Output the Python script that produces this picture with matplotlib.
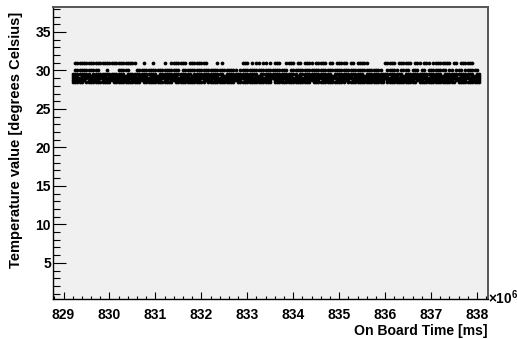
import matplotlib
matplotlib.use("Agg")
import matplotlib.pyplot as plt
from matplotlib.ticker import MultipleLocator, FixedLocator
import numpy as np

# ---------------- data ----------------
# sample grid of the on-board time (ms)
T_START_MS = 829.20e6
T_STEP_MS = 0.05e6

# temperature levels (degrees Celsius) and, per level, which samples of the
# grid show a point at that level ('#' = point present, '.' = none)
levels = [31.0, 30.0, 29.5, 29.25, 29.0, 28.75, 28.5]
occupancy = [
    # 31.0
    ".######### ########## ########.. .#...#.... #..####### .########. "
    "...#.#.... ....###.#. ##.##.#.## #..####.## .####.#### #.##.##### "
    ".##.#####. ......#### #.######.# ##.###.### #####.##.# #####...",
    # 30.0
    ".######### ##...#.... #####...## ########## #######.## ########## "
    "########## ##.####### ########## ####.##### ########## ########## "
    "########## #####..### ##.####.## #.##.##### ###.##.### .######.",
    # 29.5
    "########.# ########## ###.###### #######.## ########## ##.####### "
    "######.### ########## #.######## ########.# ########## ###.###### "
    "#######.## ########## ####.##### ########## #.######## #####.##",
    # 29.25
    "###.###### #####.#### ########.# ###.###### ######.### #.######## "
    "####.##### #########. ###.###### ######.### .######### #####.#### "
    "##.####### ########.# ##.####### #####.#### ########.# ###.####",
    # 29.0
    "########## ########## ########## ########## ########## ########## "
    "########## ########## ########## ########## ########## ########## "
    "########## ########## ########## ########## ########## ########",
    # 28.75
    "######.### ##.####### #####.#### #########. ##.####### ######.### "
    "#.######## ####.##### #######.## ##.####### ########.# ####.##### "
    "#.######## ######.### #########. ###.###### ######.### ##.#####",
    # 28.5
    "#####.#### #######.## ########## .######### ####.##### ########.# "
    "########## #.######## #######.## ########## ####.##### #########. "
    "########## ######.### ########## .######### #######.## ########",
]

x_tick_values = [829, 830, 831, 832, 833, 834, 835, 836, 837, 838]  # x 1e6 ms
y_tick_values = [5, 10, 15, 20, 25, 30, 35]
x_title = "On Board Time [ms]"
y_title = "Temperature value [degrees Celsius]"

# ---------------- figure ----------------
plt.rcParams["font.family"] = ["Liberation Sans", "DejaVu Sans"]
plt.rcParams["font.weight"] = "bold"
plt.rcParams["mathtext.fontset"] = "custom"
plt.rcParams["mathtext.rm"] = "Liberation Sans:bold"
plt.rcParams["mathtext.bf"] = "Liberation Sans:bold"

W, H, DPI = 517, 339, 100
fig = plt.figure(figsize=(W / DPI, H / DPI), dpi=DPI, facecolor="white")
ax = fig.add_axes([52.5 / W, 1 - 299 / H, (488 - 52.5) / W, (299 - 7.3) / H])
ax.set_facecolor("#f0f0f0")

for lev, occ in zip(levels, occupancy):
    occ = occ.replace(" ", "")
    idx = np.array([i for i, c in enumerate(occ) if c == "#"])
    t = T_START_MS + idx * T_STEP_MS
    ax.plot(t, np.full(len(t), lev), linestyle="none", marker="o",
            markersize=2.7, markeredgewidth=0, color="black")

ax.set_xlim(828.76e6, 838.24e6)
ax.set_ylim(0.3, 38.2)

ax.xaxis.set_major_locator(FixedLocator([v * 1e6 for v in x_tick_values]))
ax.set_xticklabels([str(v) for v in x_tick_values])
ax.xaxis.set_minor_locator(MultipleLocator(0.2e6))
ax.yaxis.set_major_locator(FixedLocator(y_tick_values))
ax.set_yticklabels([str(v) for v in y_tick_values])
ax.yaxis.set_minor_locator(MultipleLocator(1))

ax.tick_params(axis="x", which="major", direction="in", length=4.8, width=0.8,
               labelsize=10, pad=6.8, top=False)
ax.tick_params(axis="x", which="minor", direction="in", length=2.4, width=0.8,
               top=False)
ax.tick_params(axis="y", which="major", direction="in", length=9.4, width=0.8,
               labelsize=10, pad=1.2, right=False)
ax.tick_params(axis="y", which="minor", direction="in", length=4.7, width=0.8,
               right=False)
for lab in ax.get_xticklabels() + ax.get_yticklabels():
    lab.set_fontweight("bold")

for s in ("left", "bottom"):
    ax.spines[s].set_color("black")
    ax.spines[s].set_linewidth(1.0)
for s in ("top", "right"):
    ax.spines[s].set_color("#555555")
    ax.spines[s].set_linewidth(1.4)

fig.text(488 / W, 1 - 331 / H, x_title, ha="right", va="center",
         fontsize=10.1, fontweight="bold")
fig.text(16 / W, 1 - 11.5 / H, y_title, ha="center", va="top", rotation=90,
         fontsize=10.5, fontweight="bold")
fig.text(488 / W, 1 - 298 / H, r"$\times\mathbf{10^{6}}$", ha="left",
         va="center", fontsize=9.8)

fig.savefig("out.png", dpi=DPI, facecolor="white")
